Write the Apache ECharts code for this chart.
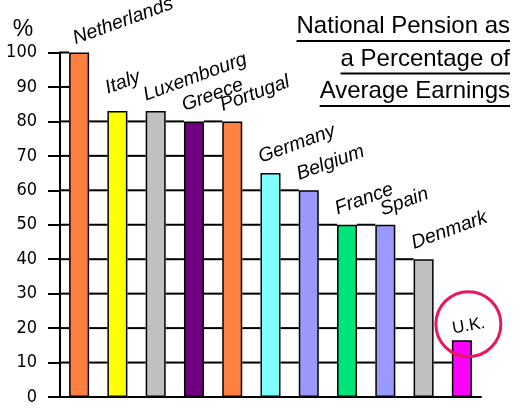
<!DOCTYPE html>
<html>
<head>
<meta charset="utf-8">
<script src="https://cdn.jsdelivr.net/npm/echarts@6/dist/echarts.min.js"></script>
<style>
html,body{margin:0;padding:0;background:#fff;}
#chart{width:521px;height:413px;}
</style>
</head>
<body>
<div id="chart"></div>
<script>
// ---- data ----
const categories = ['Netherlands','Italy','Luxembourg','Greece','Portugal','Germany','Belgium','France','Spain','Denmark','U.K.'];
const values = [100, 83, 83, 80, 80, 65, 60, 50, 50, 40, 16.5];
const yTicks = [0,10,20,30,40,50,60,70,80,90,100];
const titleLines = ['National Pension as','a Percentage of','Average Earnings'];
const yUnit = '%';

// ---- styling ----
const barColors = ['#FF7F40','#FFFF00','#C0C0C0','#6E0080','#FF8040','#80FFFF','#9999FF','#00E57A','#9999FF','#C0C0C0','#FF00FF'];
const labelOffsets = {Netherlands:[8,-4], Italy:[2,-13], Spain:[9,-5]};
const BAR_W = 20;
const LABEL_FONT = '"Liberation Sans", Arial, sans-serif';

const chart = echarts.init(document.getElementById('chart'), null, {renderer:'canvas'});

const ukIdx = categories.length - 1;

const barData = values.map((v,i)=>{
  const name = categories[i];
  const off = labelOffsets[name] || [2,-6];
  const item = {
    value: v,
    itemStyle: {color: barColors[i]},
    label: {position: off}
  };
  if (i === ukIdx) {
    item.label = {position:[2,-3], rotate:10, fontStyle:'normal', fontSize:17};
  }
  return item;
});

// measure title widths for underlines
const mctx = document.createElement('canvas').getContext('2d');
const TITLE_FONT_SIZE = 24;
mctx.font = TITLE_FONT_SIZE + 'px "Liberation Sans", Arial, sans-serif';
const titleRight = 510;
const titleBaselines = [35, 67.5, 100];
const graphics = [];
titleLines.forEach((t,i)=>{
  const w = mctx.measureText(t).width;
  graphics.push({
    type:'text', x:titleRight, y:titleBaselines[i] - 8.3,
    style:{text:t, fill:'#000', align:'right', verticalAlign:'middle',
      font: TITLE_FONT_SIZE + 'px "Liberation Sans", Arial, sans-serif'}
  });
  graphics.push({
    type:'rect', shape:{x:titleRight - w, y:titleBaselines[i] + 5, width:w, height:2},
    style:{fill:'#000'}
  });
});
graphics.push({
  type:'text', x:23, y:30,
  style:{text:yUnit, fill:'#000', align:'center', verticalAlign:'middle',
    font:'23px "Liberation Sans", Arial, sans-serif'}
});

const option = {
  animation:false,
  backgroundColor:'#fff',
  grid:{left:60, right:40, top:52.5, bottom:16, containLabel:false, outerBoundsMode:'none'},
  xAxis:{
    type:'category', data:categories,
    axisLabel:{show:false}, axisTick:{show:false},
    axisLine:{lineStyle:{color:'#000', width:2}},
    splitLine:{show:false}
  },
  yAxis:{
    type:'value', min:yTicks[0], max:yTicks[yTicks.length-1], interval:yTicks[1]-yTicks[0],
    axisLine:{show:true, lineStyle:{color:'#000', width:2}},
    axisTick:{show:true, length:12, lineStyle:{color:'#000', width:2}},
    axisLabel:{color:'#000', fontSize:18, fontFamily:'"Liberation Sans Narrow", "DejaVu Sans Condensed", Arial, sans-serif', margin:23},
    splitLine:{show:false}
  },
  graphic: graphics,
  series:[
    {
      type:'custom', silent:true, z:1,
      data: categories.map((c,i)=>[i]),
      encode:{x:0},
      renderItem:(params, api)=>{
        const i = api.value(0);
        const cx = api.coord([i, 0])[0];
        const band = api.size([1, 0])[0];
        const left = i === 0 ? cx - band/2 : api.coord([i-1, 0])[0] + BAR_W/2;
        const right = cx - BAR_W/2;
        const h = i === 0 ? values[0] : Math.min(values[i-1], values[i]);
        const children = [];
        for (let k = 10; k <= h + 1e-9; k += 10) {
          const y = api.coord([i, k])[1];
          children.push({type:'line', shape:{x1:left, y1:y, x2:right, y2:y},
            style:{stroke:'#000', lineWidth:2}});
        }
        return {type:'group', children};
      }
    },
    {
      type:'bar', z:2,
      data: barData,
      barWidth: BAR_W,
      itemStyle:{borderColor:'#000', borderWidth:1.5},
      label:{
        show:true, formatter:'{b}', align:'left', verticalAlign:'bottom',
        rotate:20, fontSize:19.5, fontStyle:'italic', fontFamily:LABEL_FONT, color:'#000'
      }
    },
    {
      type:'custom', silent:true, z:5,
      data:[[ukIdx, values[ukIdx]]],
      encode:{x:0, y:1},
      renderItem:(params, api)=>{
        const p = api.coord([api.value(0), api.value(1)]);
        return {type:'circle', shape:{cx:p[0]+6.5, cy:p[1]-16, r:32.5},
          style:{fill:'none', stroke:'#E8185A', lineWidth:3}};
      }
    }
  ]
};
chart.setOption(option);
</script>
</body>
</html>
